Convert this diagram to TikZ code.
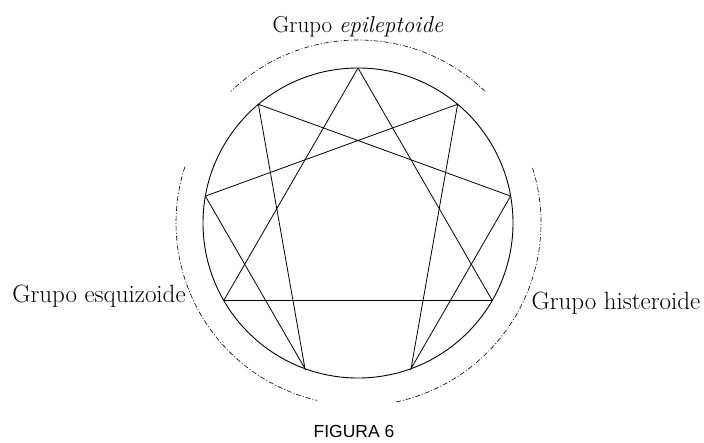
\documentclass[tikz,border=0pt]{standalone}
\usepackage{fontspec}
\newfontfamily\figfont{Liberation Sans}
\begin{document}
\begin{tikzpicture}[x=1pt,y=1pt,
  ring/.style={line width=0.9pt},
  edge/.style={line width=0.8pt},
  baseedge/.style={line width=1.5pt},
  grouparc/.style={line width=0.6pt, dash pattern=on 5pt off 2pt on 1pt off 2pt},
  grouplabel/.style={anchor=base, inner sep=0pt, font=\fontsize{25}{29}\selectfont},
  caption/.style={anchor=base, inner sep=0pt, font=\figfont\fontsize{17.5}{20}\selectfont}]
\useasboundingbox (0,0) rectangle (704,-442);
\coordinate (c) at (358,-223);
\begin{scope}[shift={(c)}]
  \draw[ring] (0,0) circle[radius=155];
  \foreach \k in {1,...,9} {
    \coordinate (p\k) at ({90-40*\k}:155);
  }
  % triangle 9-3-6
  \draw[edge] (p9) -- (p3);
  \draw[edge] (p9) -- (p6);
  \draw[baseedge] (p6) -- (p3);
  % hexad 1-4-2-8-5-7-1
  \draw[edge] (p1) -- (p4) -- (p2) -- (p8) -- (p5) -- (p7) -- cycle;
  % group arcs
  \coordinate (ta) at (46:183);
  \coordinate (la) at (162:182);
  \coordinate (ra) at (-78:183);
  \draw[grouparc] (ta) arc[start angle=46, end angle=134, radius=183];
  \draw[grouparc] (la) arc[start angle=162, end angle=257, radius=182];
  \draw[grouparc] (ra) arc[start angle=-78, end angle=18, radius=183];
\end{scope}
\node[grouplabel, font=\fontsize{23}{27}\selectfont] (epi) at (358,-32) {Grupo \textit{epileptoide}};
\node[grouplabel] (esq) at (99,-302) {Grupo esquizoide};
\node[grouplabel] (his) at (616,-309) {Grupo histeroide};
\node[caption] (fig) at (354,-437) {FIGURA 6};
\end{tikzpicture}
\end{document}
